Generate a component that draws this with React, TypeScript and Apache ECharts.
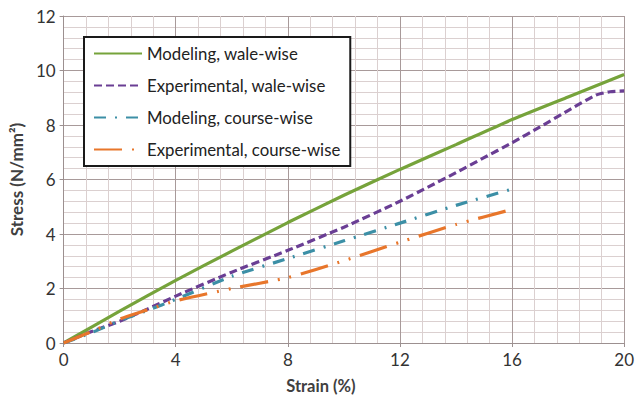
import React, { useEffect, useRef } from "react";
import * as echarts from "echarts";

const seriesNames = [
  "Modeling, wale-wise",
  "Experimental, wale-wise",
  "Modeling, course-wise",
  "Experimental, course-wise",
];

const modelingWale: [number, number][] = [
  [0, 0], [2, 1.17], [4, 2.3], [6, 3.37], [8, 4.42], [10, 5.42],
  [12, 6.37], [14, 7.28], [16, 8.2], [18, 9.03], [20, 9.85],
];
const experimentalWale: [number, number][] = [
  [0, 0], [1, 0.42], [2, 0.8], [3, 1.25], [4, 1.72], [6, 2.6], [8, 3.4],
  [10, 4.25], [12, 5.2], [13, 5.72], [14, 6.25], [15, 6.8], [16, 7.35],
  [17, 7.93], [18, 8.53], [19, 9.1], [19.5, 9.22], [20, 9.25],
];
const modelingCourse: [number, number][] = [
  [0, 0], [1, 0.38], [2, 0.82], [3, 1.2], [4, 1.6], [6, 2.45], [8, 3.1],
  [10, 3.75], [12, 4.4], [14, 5.05], [16, 5.65],
];
const experimentalCourse: [number, number][] = [
  [0, 0], [1, 0.42], [2, 0.88], [3, 1.22], [4, 1.55], [6, 2.0], [8, 2.4],
  [10, 3.02], [12, 3.7], [14, 4.35], [16, 4.9],
];

const xTicks = [0, 4, 8, 12, 16, 20];
const yTicks = [0, 2, 4, 6, 8, 10, 12];

const colors = ["#76A33B", "#6A3E94", "#3C8FA6", "#E8762B"];

export default function App() {
  const ref = useRef<HTMLDivElement>(null);
  useEffect(() => {
    if (!ref.current) return;
    const chart = echarts.init(ref.current, undefined, { renderer: "svg" });
    const font = "Lato, 'Open Sans', sans-serif";
    const mk = (name: string, data: [number, number][], color: string, type: any) => ({
      name,
      type: "line",
      data,
      showSymbol: false,
      symbol: "none",
      smooth: 0.2,
      lineStyle: { color, width: 3.2, type, cap: "butt" },
      itemStyle: { color },
    });
    chart.setOption({
      animation: false,
      textStyle: { fontFamily: font },
      grid: { left: 60, right: 10, top: 16, bottom: 56, containLabel: false },
      legend: {
        orient: "vertical",
        left: 84,
        top: 37,
        itemWidth: 48,
        itemHeight: 14,
        itemGap: 15,
        padding: [8, 10, 8, 9],
        backgroundColor: "#ffffff",
        borderColor: "#1a1a1a",
        borderWidth: 2,
        borderRadius: 0,
        data: seriesNames,
        itemStyle: { opacity: 0 },
        textStyle: { fontSize: 16.8, color: "#222222", fontFamily: font, lineHeight: 16 },
      },
      xAxis: {
        type: "value",
        min: xTicks[0],
        max: xTicks[xTicks.length - 1],
        interval: 4,
        name: "Strain (%)",
        nameLocation: "middle",
        nameGap: 34,
        nameTextStyle: { fontSize: 16.5, fontWeight: "bold", color: "#404040", padding: [0, 46, 0, 0] },
        axisLine: { show: true, lineStyle: { color: "#9c9090", width: 1 } },
        axisTick: { show: true, length: 4, lineStyle: { color: "#9c9090" } },
        axisLabel: { fontSize: 17, color: "#333333", margin: 8 },
        splitLine: { show: true, lineStyle: { color: "#a89a9a", width: 1 } },
        minorTick: { show: false, splitNumber: 5 },
        minorSplitLine: { show: true, lineStyle: { color: "#dbd0d0", width: 1 } },
      },
      yAxis: {
        type: "value",
        min: yTicks[0],
        max: yTicks[yTicks.length - 1],
        interval: 2,
        name: "Stress (N/mm²)",
        nameLocation: "middle",
        nameGap: 33,
        nameTextStyle: { fontSize: 17, fontWeight: "bold", color: "#404040" },
        axisLine: { show: true, lineStyle: { color: "#9c9090", width: 1 } },
        axisTick: { show: true, length: 4, lineStyle: { color: "#9c9090" } },
        axisLabel: { fontSize: 17, color: "#333333", margin: 8 },
        splitLine: { show: true, lineStyle: { color: "#a89a9a", width: 1 } },
        minorTick: { show: false, splitNumber: 5 },
        minorSplitLine: { show: true, lineStyle: { color: "#dbd0d0", width: 1 } },
      },
      series: [
        mk(seriesNames[0], modelingWale, colors[0], "solid"),
        mk(seriesNames[1], experimentalWale, colors[1], [8, 4]),
        mk(seriesNames[2], modelingCourse, colors[2], [12, 9, 2, 9]),
        mk(seriesNames[3], experimentalCourse, colors[3], [28, 10, 2, 10, 2, 10]),
      ],
    });
    return () => chart.dispose();
  }, []);
  return (
    <div
      ref={ref}
      style={{ position: "fixed", left: 0, top: 0, width: 637, height: 399, background: "#fff" }}
    />
  );
}
